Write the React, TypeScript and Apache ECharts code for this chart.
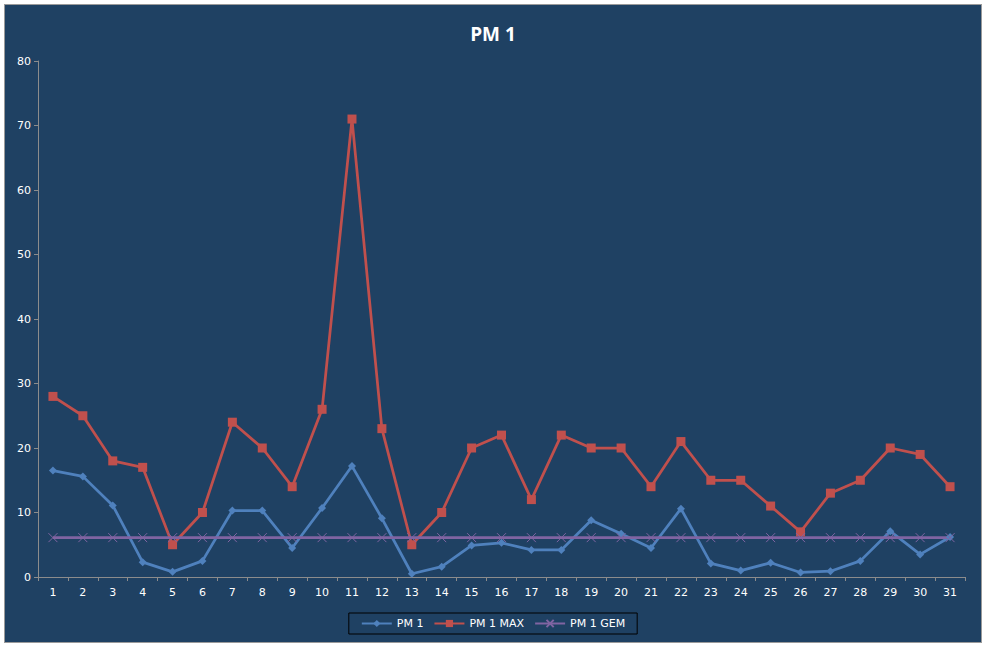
import { useEffect, useRef } from "react";
import * as echarts from "echarts";
import type { EChartsOption } from "echarts";

const days = [
  "1", "2", "3", "4", "5", "6", "7", "8", "9", "10", "11", "12", "13", "14", "15", "16",
  "17", "18", "19", "20", "21", "22", "23", "24", "25", "26", "27", "28", "29", "30", "31",
];
const pm1 = [
  16.5, 15.6, 11.1, 2.3, 0.8, 2.5, 10.3, 10.3, 4.5, 10.7, 17.2, 9.1, 0.5, 1.6, 4.9, 5.3,
  4.2, 4.2, 8.8, 6.7, 4.5, 10.6, 2.1, 1.0, 2.2, 0.7, 0.9, 2.5, 7.1, 3.5, 6.2,
];
const pm1Max = [
  28, 25, 18, 17, 5, 10, 24, 20, 14, 26, 71, 23, 5, 10, 20, 22,
  12, 22, 20, 20, 14, 21, 15, 15, 11, 7, 13, 15, 20, 19, 14,
];
const pm1Gem = [
  6.1, 6.1, 6.1, 6.1, 6.1, 6.1, 6.1, 6.1, 6.1, 6.1, 6.1, 6.1, 6.1, 6.1, 6.1, 6.1,
  6.1, 6.1, 6.1, 6.1, 6.1, 6.1, 6.1, 6.1, 6.1, 6.1, 6.1, 6.1, 6.1, 6.1, 6.1,
];

const BG = "#1F4163";
const AXIS = "#8C8C8C";
const FONT = "'DejaVu Sans', Verdana, sans-serif";

export default function App() {
  const chartRef = useRef<HTMLDivElement>(null);

  useEffect(() => {
    if (!chartRef.current) return;
    const chart = echarts.init(chartRef.current, undefined, { renderer: "svg" });

    const option: EChartsOption = {
      animation: false,
      backgroundColor: BG,
      title: {
        text: "PM 1",
        left: "center",
        top: 14,
        textStyle: {
          color: "#FFFFFF",
          fontSize: 19,
          fontWeight: "bold",
          fontFamily: "'Open Sans', 'Liberation Sans', sans-serif",
        },
      },
      legend: {
        bottom: 8,
        left: "center",
        borderColor: "#000000",
        borderWidth: 1,
        padding: [5, 12],
        itemGap: 10,
        itemWidth: 30,
        itemHeight: 9,
        textStyle: { color: "#FFFFFF", fontSize: 11, fontFamily: FONT },
        data: ["PM 1", "PM 1 MAX", "PM 1 GEM"],
      },
      grid: { left: 33, right: 16, top: 56, bottom: 65 },
      xAxis: {
        type: "category",
        data: days,
        boundaryGap: true,
        axisLine: { lineStyle: { color: AXIS, width: 1 } },
        axisTick: { show: true, length: 4, lineStyle: { color: AXIS } },
        axisLabel: { color: "#FFFFFF", fontSize: 11, fontFamily: FONT, margin: 10 },
      },
      yAxis: {
        type: "value",
        min: 0,
        max: 80,
        interval: 10,
        splitLine: { show: false },
        axisLine: { show: true, lineStyle: { color: AXIS, width: 1 } },
        axisTick: { show: true, length: 4, lineStyle: { color: AXIS } },
        axisLabel: { color: "#FFFFFF", fontSize: 11, fontFamily: FONT, margin: 7 },
      },
      series: [
        {
          name: "PM 1",
          type: "line",
          data: pm1,
          symbol: "diamond",
          symbolSize: 8,
          lineStyle: { color: "#4F81BD", width: 2.75 },
          itemStyle: { color: "#4F81BD" },
        },
        {
          name: "PM 1 MAX",
          type: "line",
          data: pm1Max,
          symbol: "rect",
          symbolSize: 9,
          lineStyle: { color: "#C0504D", width: 2.75 },
          itemStyle: { color: "#C0504D" },
        },
        {
          name: "PM 1 GEM",
          type: "line",
          data: pm1Gem,
          symbol: "path://M0,0L10,10M10,0L0,10",
          symbolSize: 9,
          lineStyle: { color: "#8064A2", width: 2.75 },
          itemStyle: { color: "transparent", borderColor: "#8064A2", borderWidth: 1 },
        },
      ],
    };

    chart.setOption(option);
    return () => {
      chart.dispose();
    };
  }, []);

  return (
    <div
      style={{
        position: "fixed",
        left: 0,
        top: 0,
        width: 987,
        height: 648,
        background: "#FFFFFF",
      }}
    >
      <div
        style={{
          position: "absolute",
          left: 4,
          top: 4,
          width: 978,
          height: 639,
          border: "1px solid #9A9A9A",
          boxSizing: "border-box",
        }}
      >
        <div ref={chartRef} style={{ width: 976, height: 637 }} />
      </div>
    </div>
  );
}
